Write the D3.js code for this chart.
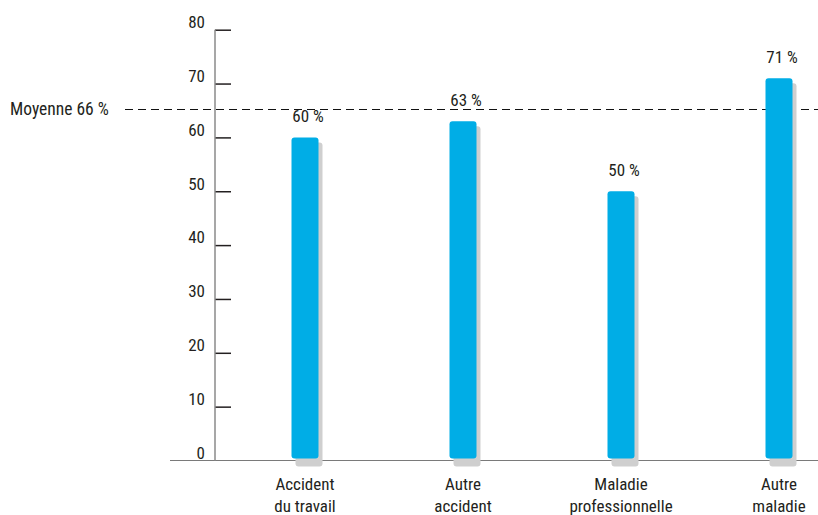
<!DOCTYPE html>
<html>
<head>
<meta charset="utf-8">
<script src="https://cdn.jsdelivr.net/npm/d3@7"></script>
<style>
  body { margin: 0; background: #fff; }
  svg text { font-family: "Liberation Sans Narrow", "Roboto Condensed", "Liberation Sans", sans-serif; fill: #231f20; }
</style>
</head>
<body>
<div id="chart"></div>
<script>
var categories = ["Accident du travail", "Autre accident", "Maladie professionnelle", "Autre maladie"];
var catLines = [["Accident", "du travail"], ["Autre", "accident"], ["Maladie", "professionnelle"], ["Autre", "maladie"]];
var values = [60, 63, 50, 71];
var yTicks = [0, 10, 20, 30, 40, 50, 60, 70, 80];
var avgValue = 65.3;
var avgLabel = "Moyenne 66 %";

var width = 818, height = 515;

var svg = d3.select("#chart").append("svg")
  .attr("width", width)
  .attr("height", height);

var x = d3.scalePoint().domain(categories).range([305, 779]);
var y = d3.scaleLinear().domain([0, 80]).range([460.5, 29.7]);

var barW = 27;

// baseline
svg.append("line")
  .attr("x1", 170).attr("x2", width)
  .attr("y1", y(0)).attr("y2", y(0))
  .attr("stroke", "#7a7a7a").attr("stroke-width", 1.2);

// y axis
var yAxis = d3.axisRight(y).tickValues(yTicks.filter(function(d) { return d > 0; })).tickSize(16).tickFormat("");
var gy = svg.append("g")
  .attr("transform", "translate(215,0)")
  .call(yAxis);
gy.select(".domain").remove();
gy.selectAll(".tick line").attr("stroke", "#231f20").attr("stroke-width", 1.5);

svg.append("line")
  .attr("x1", 215).attr("x2", 215)
  .attr("y1", y(80)).attr("y2", y(0))
  .attr("stroke", "#8a8a8a").attr("stroke-width", 1.5);

svg.selectAll(".ylab")
  .data(yTicks)
  .enter().append("text")
  .attr("class", "ylab")
  .attr("x", 205)
  .attr("y", function(d) { return y(d); })
  .attr("dy", "-0.1em")
  .attr("text-anchor", "end")
  .style("font-size", "17px")
  .text(function(d) { return d; });

// average line
var avgY = Math.round(y(avgValue)) + 0.5;
svg.append("line")
  .attr("x1", 125).attr("x2", width)
  .attr("y1", avgY).attr("y2", avgY)
  .attr("stroke", "#111").attr("stroke-width", 1)
  .attr("stroke-dasharray", "8,5");

svg.append("text")
  .attr("x", 10)
  .attr("y", y(avgValue))
  .attr("dy", "0.35em")
  .style("font-size", "17.5px")
  .text(avgLabel);

function barPath(cx, top, bottom, w, r) {
  var l = cx - w / 2, rgt = cx + w / 2;
  return "M" + l + "," + (bottom - r) +
    " L" + l + "," + (top + r) +
    " Q" + l + "," + top + " " + (l + r) + "," + top +
    " L" + (rgt - r) + "," + top +
    " Q" + rgt + "," + top + " " + rgt + "," + (top + r) +
    " L" + rgt + "," + (bottom - r) +
    " Q" + rgt + "," + bottom + " " + (rgt - r) + "," + bottom +
    " L" + (l + r) + "," + bottom +
    " Q" + l + "," + bottom + " " + l + "," + (bottom - r) + " Z";
}

// shadows
svg.selectAll(".shadow")
  .data(values)
  .enter().append("path")
  .attr("class", "shadow")
  .attr("fill", "#cfcfcf")
  .attr("d", function(d, i) {
    return barPath(x(categories[i]) + 4, y(d) + 5, y(0) + 6, barW, 3);
  });

// bars
svg.selectAll(".bar")
  .data(values)
  .enter().append("path")
  .attr("class", "bar")
  .attr("fill", "#00ade6")
  .attr("d", function(d, i) {
    return barPath(x(categories[i]), y(d), y(0) - 2, barW, 3);
  });

// value labels
svg.selectAll(".vlab")
  .data(values)
  .enter().append("text")
  .attr("class", "vlab")
  .attr("x", function(d, i) { return x(categories[i]) + 3; })
  .attr("y", function(d) { return y(d) - 15; })
  .attr("text-anchor", "middle")
  .style("font-size", "17px")
  .text(function(d) { return d + " %"; });

// category labels
var cl = svg.selectAll(".clab")
  .data(catLines)
  .enter().append("text")
  .attr("class", "clab")
  .attr("text-anchor", "middle")
  .style("font-size", "17px");
cl.each(function(lines, i) {
  var t = d3.select(this);
  lines.forEach(function(s, j) {
    t.append("tspan")
      .attr("x", x(categories[i]))
      .attr("y", 490 + j * 22)
      .text(s);
  });
});
</script>
</body>
</html>
